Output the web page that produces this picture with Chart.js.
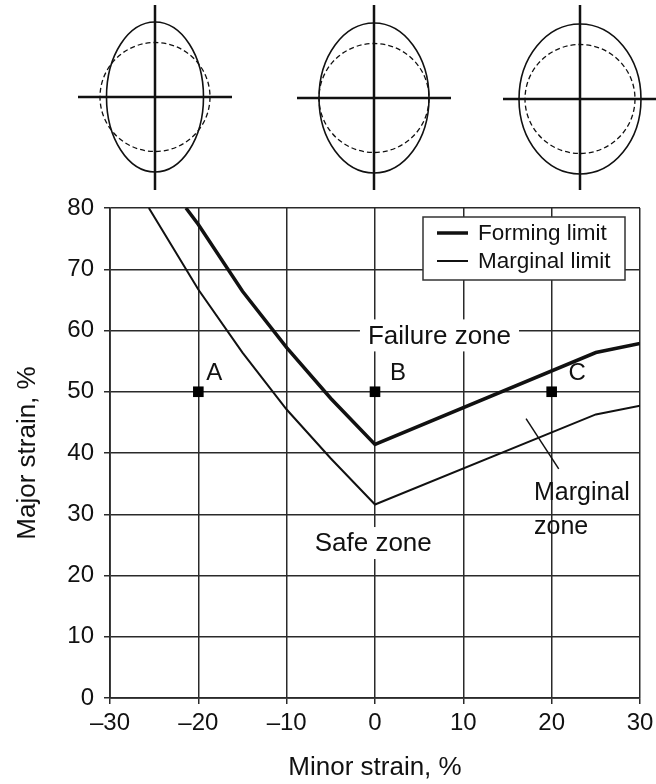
<!DOCTYPE html>
<html>
<head>
<meta charset="utf-8">
<title>Forming limit diagram</title>
<script src="https://cdn.jsdelivr.net/npm/chart.js@4.4.1/dist/chart.umd.min.js"></script>
<style>
  html, body { margin: 0; padding: 0; background: #fff; }
  canvas { display: block; }
</style>
</head>
<body>
<canvas id="fld" width="656" height="784"></canvas>
<script>
// minor strain (x) vs major strain (y), both in %
const formingX = [-21.4, -20, -15, -10, -5, 0, 25, 30];
const formingY = [80, 77.3, 66.4, 57.2, 48.9, 41.4, 56.4, 57.9];
const marginalX = [-25.6, -20, -15, -10, -5, 0, 25, 30];
const marginalY = [80, 66.7, 56.4, 47.1, 39.1, 31.6, 46.3, 47.7];

const pointNames = ["A", "B", "C"];
const pointX = [-20, 0, 20];
const pointY = [50, 50, 50];
const pointLabelX = [-18.2, 2.6, 22.9];
const pointLabelY = [53, 53, 53];

const zoneNames = ["Failure zone", "Safe zone"];
const zoneX = [7.3, -0.2];
const zoneY = [59.2, 25.3];

const marginalText = ["Marginal", "zone"];
const marginalTextX = [18.0, 18.0];
const marginalTextY = [33.5, 27.9];
const pointerX = [17.1, 20.8];
const pointerY = [45.6, 37.4];

const xTicks = [-30, -20, -10, 0, 10, 20, 30];
const xTickLabels = ["–30", "–20", "–10", "0", "10", "20", "30"];

const FONT = "'Liberation Sans', Arial, Helvetica, sans-serif";
const INK = "#111";
const GRID = "#2a2a2a";

const pts = (xs, ys) => xs.map((x, i) => ({ x, y: ys[i] }));

Chart.defaults.font.family = FONT;
Chart.defaults.color = INK;

// strain ellipse sketches above the plot (pure decoration)
const strainDiagrams = {
    id: "strainDiagrams",
    afterDraw(chart) {
        const ctx = chart.ctx;
        const shapes = [
            { cx: 155, cy: 97, rx: 48.5 },
            { cx: 374, cy: 98, rx: 55 },
            { cx: 580, cy: 99, rx: 61 },
        ];
        ctx.save();
        ctx.strokeStyle = INK;
        shapes.forEach((s) => {
            ctx.setLineDash([]);
            ctx.lineWidth = 1.6;
            ctx.beginPath();
            ctx.ellipse(s.cx, s.cy, s.rx, 75, 0, 0, Math.PI * 2);
            ctx.stroke();

            ctx.setLineDash([5, 3]);
            ctx.lineWidth = 1.3;
            ctx.beginPath();
            ctx.ellipse(s.cx, s.cy, 55, 54.5, 0, 0, Math.PI * 2);
            ctx.stroke();

            ctx.setLineDash([]);
            ctx.lineWidth = 2.5;
            ctx.beginPath();
            ctx.moveTo(s.cx - 77, s.cy);
            ctx.lineTo(s.cx + 77, s.cy);
            ctx.moveTo(s.cx, 5);
            ctx.lineTo(s.cx, 190);
            ctx.stroke();
        });
        ctx.restore();
    }
};

// zone names sit on white patches that break the grid
const zoneLabels = {
    id: "zoneLabels",
    beforeDatasetsDraw(chart) {
        const { ctx, scales: { x, y } } = chart;
        ctx.save();
        ctx.font = `26px ${FONT}`;
        ctx.textAlign = "center";
        ctx.textBaseline = "middle";
        zoneNames.forEach((name, i) => {
            const px = x.getPixelForValue(zoneX[i]);
            const py = y.getPixelForValue(zoneY[i]);
            const w = ctx.measureText(name).width + 16;
            ctx.fillStyle = "#fff";
            ctx.fillRect(px - w / 2, py - 16, w, 32);
            ctx.fillStyle = INK;
            ctx.fillText(name, px, py + 1);
        });
        ctx.restore();
    }
};

const annotations = {
    id: "annotations",
    afterDatasetsDraw(chart) {
        const { ctx, chartArea, scales: { x, y } } = chart;
        ctx.save();
        ctx.fillStyle = INK;
        ctx.textBaseline = "middle";

        ctx.font = `24px ${FONT}`;
        ctx.textAlign = "center";
        pointNames.forEach((n, i) => {
            ctx.fillText(n, x.getPixelForValue(pointLabelX[i]), y.getPixelForValue(pointLabelY[i]));
        });

        ctx.font = `25px ${FONT}`;
        ctx.textAlign = "left";
        marginalText.forEach((t, i) => {
            ctx.fillText(t, x.getPixelForValue(marginalTextX[i]), y.getPixelForValue(marginalTextY[i]));
        });

        // legend box in the upper right corner
        const right = chartArea.right - 15;
        const top = chartArea.top + 9;
        const bw = 202, bh = 63;
        ctx.fillStyle = "#fff";
        ctx.fillRect(right - bw, top, bw, bh);
        ctx.strokeStyle = "#333";
        ctx.lineWidth = 1.5;
        ctx.strokeRect(right - bw, top, bw, bh);
        ctx.font = `22.5px ${FONT}`;
        ctx.fillStyle = INK;
        chart.data.datasets.slice(0, 2).forEach((ds, i) => {
            const ly = top + 16 + i * 28;
            ctx.strokeStyle = INK;
            ctx.lineWidth = ds.borderWidth;
            ctx.beginPath();
            ctx.moveTo(right - bw + 14, ly);
            ctx.lineTo(right - bw + 45, ly);
            ctx.stroke();
            ctx.fillText(ds.label, right - bw + 55, ly + 1);
        });
        ctx.restore();
    }
};

new Chart(document.getElementById("fld"), {
    type: "scatter",
    data: {
        datasets: [
            {
                label: "Forming limit",
                data: pts(formingX, formingY),
                showLine: true,
                borderColor: INK,
                borderWidth: 3.5,
                pointRadius: 0,
                tension: 0,
            },
            {
                label: "Marginal limit",
                data: pts(marginalX, marginalY),
                showLine: true,
                borderColor: INK,
                borderWidth: 2,
                pointRadius: 0,
                tension: 0,
            },
            {
                label: "Strain points",
                data: pts(pointX, pointY),
                pointStyle: "rect",
                pointRadius: 7.5,
                backgroundColor: "#000",
                borderColor: "#000",
                borderWidth: 0,
            },
            {
                label: "pointer",
                data: pts(pointerX, pointerY),
                showLine: true,
                borderColor: INK,
                borderWidth: 1.5,
                pointRadius: 0,
            },
        ]
    },
    options: {
        responsive: false,
        animation: false,
        events: [],
        layout: {
            padding: { top: 208, right: 16, bottom: 0, left: 0 },
        },
        plugins: {
            legend: { display: false },
            tooltip: { enabled: false },
        },
        scales: {
            x: {
                type: "linear",
                min: -30,
                max: 30,
                afterFit: (scale) => {
                    scale.height = 86;
                    scale.paddingRight = 0;
                    scale.paddingLeft = 0;
                },
                afterBuildTicks: (scale) => {
                    scale.ticks = xTicks.map((v) => ({ value: v }));
                },
                ticks: {
                    color: INK,
                    font: { size: 24 },
                    padding: 5,
                    maxRotation: 0,
                    callback: (v) => xTickLabels[xTicks.indexOf(v)] ?? "",
                },
                grid: {
                    color: GRID,
                    lineWidth: 1.5,
                    tickLength: 6,
                },
                border: { color: GRID, width: 1.8 },
                title: {
                    display: true,
                    text: "Minor strain, %",
                    color: INK,
                    font: { size: 26 },
                    padding: { top: 0, bottom: 1 },
                },
            },
            y: {
                type: "linear",
                min: 0,
                max: 80,
                afterFit: (scale) => { scale.width = 110; },
                ticks: {
                    stepSize: 10,
                    color: INK,
                    font: { size: 24 },
                    padding: 10,
                },
                grid: {
                    color: GRID,
                    lineWidth: 1.5,
                    tickLength: 6,
                },
                border: { color: GRID, width: 1.8 },
                title: {
                    display: true,
                    text: "Major strain, %",
                    color: INK,
                    font: { size: 26 },
                    padding: { top: 12, bottom: 0 },
                },
            },
        },
    },
    plugins: [strainDiagrams, zoneLabels, annotations],
});
</script>
</body>
</html>
